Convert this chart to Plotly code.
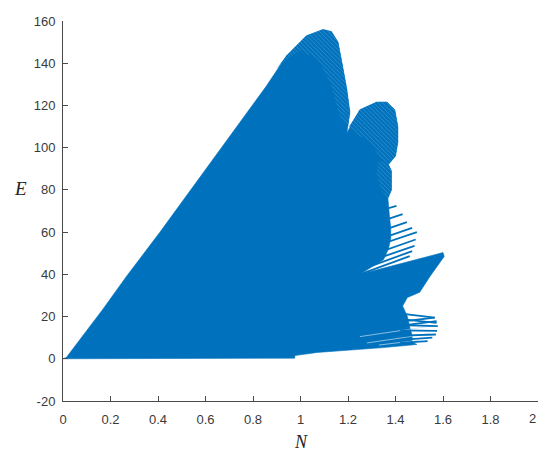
import plotly.graph_objects as go

# Outline of the dense line family (N, E), clockwise from origin
outline_N = [0.000, 0.014, 0.168, 0.267, 0.407, 0.548, 0.689, 0.773, 0.857, 0.941,
             1.025, 1.095, 1.130, 1.158, 1.178, 1.195, 1.208, 1.200, 1.195, 1.250,
             1.321, 1.364, 1.397, 1.410, 1.410, 1.400, 1.370, 1.383, 1.383, 1.368,
             1.370, 1.375, 1.380, 1.380, 1.370, 1.350, 1.250, 1.600, 1.605, 1.545,
             1.502, 1.450, 1.430, 1.450, 1.460, 1.470, 1.470, 1.490, 1.350, 1.210,
             1.070, 0.976, 0.976, 0.000]
outline_E = [0.0, 0.6, 23.5, 39.0, 59.8, 81.5, 103.5, 116.7, 129.3, 143.5,
             153.0, 156.0, 155.0, 150.0, 138.6, 127.7, 116.8, 110.0, 107.0, 118.0,
             121.6, 121.6, 118.0, 110.0, 102.6, 96.0, 92.0, 89.0, 80.0, 76.0,
             72.0, 67.0, 62.0, 57.0, 52.0, 47.0, 40.0, 50.3, 48.5, 39.0,
             31.5, 29.0, 25.0, 20.0, 15.0, 11.0, 8.0, 6.8, 5.3, 4.2,
             3.0, 1.5, 0.3, 0.0]

# Upper fan of long thin spikes (base -> tip)
upper_base_N = [1.33, 1.31, 1.30, 1.29, 1.28, 1.27, 1.26, 1.25, 1.25]
upper_base_E = [70.0, 64.0, 59.0, 55.0, 52.0, 48.0, 45.0, 42.0, 40.0]
upper_tip_N = [1.404, 1.430, 1.448, 1.470, 1.490, 1.485, 1.480, 1.470, 1.460]
upper_tip_E = [72.4, 68.5, 64.7, 62.0, 60.0, 56.5, 53.5, 51.0, 48.6]

# Lower fan of thin spikes (base -> tip)
lower_base_N = [1.20, 1.30, 1.38, 1.40, 1.41, 1.42, 1.42, 1.42, 1.42]
lower_base_E = [12.5, 16.0, 22.0, 19.0, 16.0, 13.5, 11.0, 9.0, 7.5]
lower_tip_N = [1.573, 1.565, 1.565, 1.573, 1.578, 1.575, 1.570, 1.555, 1.535]
lower_tip_E = [17.8, 19.5, 19.5, 17.0, 15.5, 13.2, 11.5, 10.0, 8.4]

# Light streaks between the lower spikes (start -> end)
streak_start_N = [1.25, 1.28, 1.33]
streak_start_E = [10.5, 7.5, 6.5]
streak_end_N = [1.55, 1.54, 1.50]
streak_end_E = [15.5, 11.8, 8.8]

# Hatched (lighter, streaky) caps of the lobes
cap1_N = [0.900, 0.941, 1.025, 1.095, 1.130, 1.158, 1.178, 1.195, 1.208, 1.200,
          1.170, 1.125, 1.070, 1.000, 0.930]
cap1_E = [137.5, 143.5, 153.0, 156.0, 155.0, 150.0, 138.6, 127.7, 116.8, 110.0,
          113.0, 131.0, 142.0, 146.0, 141.0]
cap2_N = [1.205, 1.250, 1.321, 1.364, 1.397, 1.410, 1.410, 1.400, 1.370, 1.330,
          1.290, 1.240]
cap2_E = [110.0, 118.0, 121.6, 121.6, 118.0, 110.0, 102.6, 96.0, 92.0, 96.0,
          103.0, 106.0]
cap3_N = [1.330, 1.370, 1.383, 1.383, 1.368, 1.340, 1.320]
cap3_E = [94.0, 92.0, 89.0, 80.0, 76.0, 80.0, 88.0]

x_ticks = [0, 0.2, 0.4, 0.6, 0.8, 1, 1.2, 1.4, 1.6, 1.8]
x_tick_labels = ["0", "0.2", "0.4", "0.6", "0.8", "1", "1.2", "1.4", "1.6", "1.8"]
y_ticks = [-20, 0, 20, 40, 60, 80, 100, 120, 140, 160]
y_tick_labels = ["-20", "0", "20", "40", "60", "80", "100", "120", "140", "160"]

BLUE = "#0072BD"
AX = "#4a4a4a"
TICKFONT = dict(family="Liberation Sans, Arial, sans-serif", size=13, color="#3a3a3a")

fig = go.Figure()
fig.add_trace(go.Scatter(
    x=outline_N, y=outline_E, mode="lines", fill="toself",
    fillcolor=BLUE, line=dict(color=BLUE, width=0.6), hoverinfo="skip",
    showlegend=False))


def segments(bx, by, tx, ty):
    xs, ys = [], []
    for a, b, c, d in zip(bx, by, tx, ty):
        xs += [a, c, None]
        ys += [b, d, None]
    return xs, ys


for cx, cy in [(cap1_N, cap1_E), (cap2_N, cap2_E), (cap3_N, cap3_E)]:
    fig.add_trace(go.Scatter(
        x=cx, y=cy, mode="lines", fill="toself", fillcolor=BLUE,
        fillpattern=dict(shape="\\", bgcolor=BLUE, fgcolor="#9cc6e8", size=3, solidity=0.2),
        line=dict(width=0, color=BLUE), hoverinfo="skip", showlegend=False))

sx, sy = segments(streak_start_N, streak_start_E, streak_end_N, streak_end_E)
fig.add_trace(go.Scatter(x=sx, y=sy, mode="lines",
                         line=dict(color="rgba(190,220,245,0.7)", width=1),
                         hoverinfo="skip", showlegend=False))

for bx, by, tx, ty in [(upper_base_N, upper_base_E, upper_tip_N, upper_tip_E),
                       (lower_base_N, lower_base_E, lower_tip_N, lower_tip_E)]:
    sx, sy = segments(bx, by, tx, ty)
    fig.add_trace(go.Scatter(x=sx, y=sy, mode="lines", line=dict(color=BLUE, width=1.8),
                             hoverinfo="skip", showlegend=False))

axis_common = dict(
    showgrid=False, zeroline=False, showline=True, linecolor=AX, linewidth=1,
    ticks="inside", ticklen=5, tickcolor=AX, tickwidth=1, tickfont=TICKFONT, mirror=False,
)
fig.update_xaxes(range=[0, 2], tickvals=x_ticks + [2], ticktext=x_tick_labels + [""],
                 ticklabelstandoff=6, **axis_common)
fig.update_yaxes(range=[-20, 160], tickvals=y_ticks, ticktext=y_tick_labels,
                 ticklabelstandoff=4, **axis_common)

W, H = 539, 452
ML, MR, MT, MB = 63, 1, 21, 51
pw, ph = W - ML - MR, H - MT - MB

fig.add_annotation(text="2", x=1.0, xref="paper", xanchor="right",
                   y=(H - MB - 418) / ph, yref="paper", yanchor="middle",
                   showarrow=False, font=TICKFONT)
fig.add_annotation(text="<i>N</i>", x=1.0, xref="x", y=(H - MB - 442) / ph, yref="paper",
                   yanchor="middle", showarrow=False,
                   font=dict(family="Liberation Serif, serif", size=18, color="#222"))
fig.add_annotation(text="<i>E</i>", x=(20 - ML) / pw, xref="paper", y=80.8, yref="y",
                   xanchor="center", showarrow=False,
                   font=dict(family="Liberation Serif, serif", size=19, color="#222"))

fig.update_layout(
    width=W, height=H, margin=dict(l=ML, r=MR, t=MT, b=MB),
    paper_bgcolor="white", plot_bgcolor="white",
)
fig.write_html("out.html")
